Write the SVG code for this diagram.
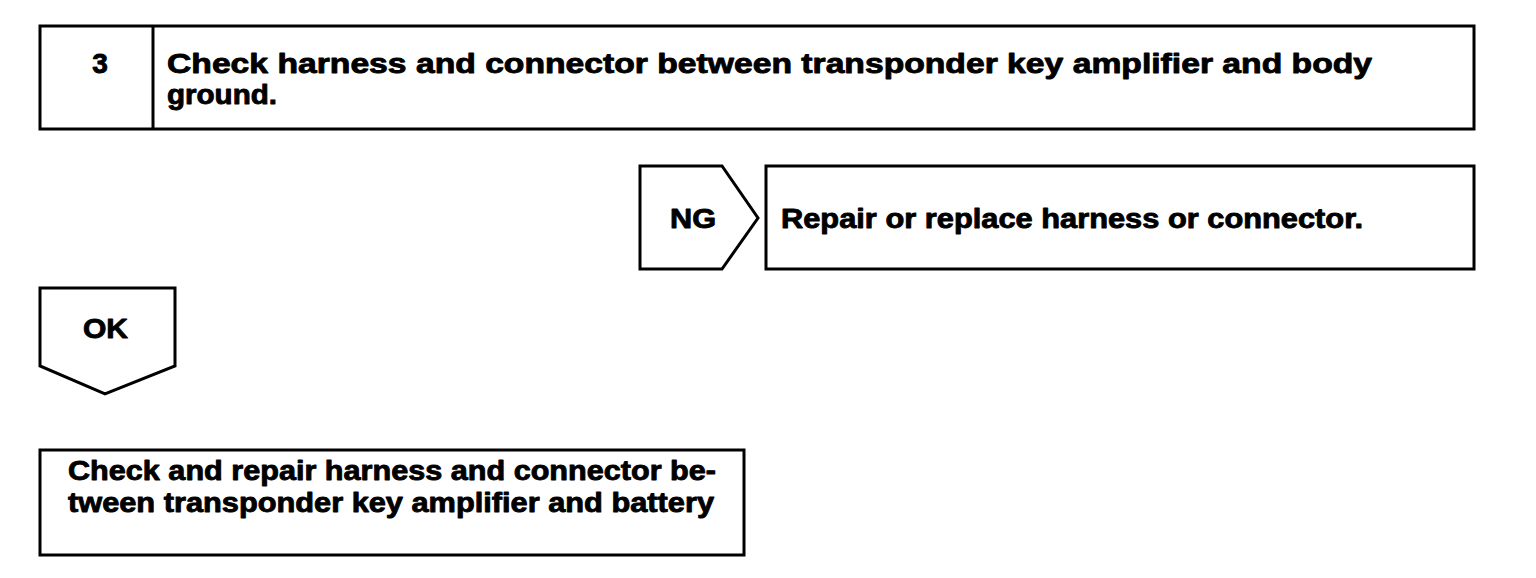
<svg xmlns="http://www.w3.org/2000/svg" width="1536" height="578" viewBox="0 0 1536 578">
<style>
.b{fill:#fff;stroke:#000;stroke-width:3;stroke-linejoin:miter}
.t{font-family:"Liberation Sans",Arial,sans-serif;font-weight:bold;font-size:28px;fill:#000;stroke:#000;stroke-width:0.9;stroke-linejoin:round}
</style>
<rect width="1536" height="578" fill="#fff"/>
<g id="step3">
<rect class="b" x="40" y="26" width="1434" height="103"/>
<line x1="153" y1="26" x2="153" y2="129" stroke="#000" stroke-width="3"/>
<text class="t" x="100" y="73" text-anchor="middle">3</text>
<text class="t" x="167" y="73" textLength="1205" lengthAdjust="spacingAndGlyphs">Check harness and connector between transponder key amplifier and body</text>
<text class="t" x="167" y="104" textLength="110" lengthAdjust="spacingAndGlyphs">ground.</text>
</g>
<g id="connectors">
<g id="ng">
<polygon class="b" points="640,166 722,166 758,218 722,269 640,269"/>
<text class="t" x="670" y="228" textLength="46" lengthAdjust="spacingAndGlyphs">NG</text>
</g>
<g id="ok">
<polygon class="b" points="40,288 175,288 175,366 105,394 40,366"/>
<text class="t" x="83" y="338" textLength="45" lengthAdjust="spacingAndGlyphs">OK</text>
</g>
</g>
<g id="repair">
<rect class="b" x="766" y="166" width="708" height="103"/>
<text class="t" x="781" y="228" textLength="582" lengthAdjust="spacingAndGlyphs">Repair or replace harness or connector.</text>
</g>
<g id="check-battery">
<rect class="b" x="40" y="450" width="704" height="105"/>
<text class="t" x="68" y="480" textLength="648" lengthAdjust="spacingAndGlyphs">Check and repair harness and connector be-</text>
<text class="t" x="68" y="512" textLength="646" lengthAdjust="spacingAndGlyphs">tween transponder key amplifier and battery</text>
</g>
</svg>
